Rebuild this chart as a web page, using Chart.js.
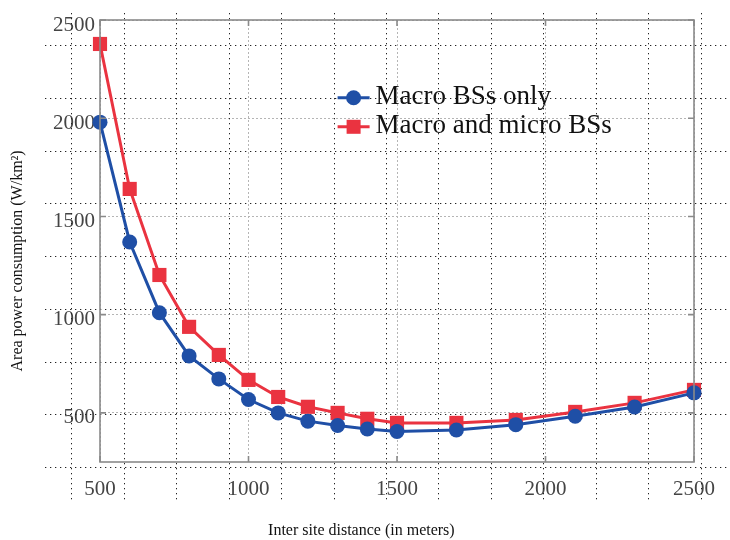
<!DOCTYPE html>
<html lang="en">
<head>
    <meta charset="UTF-8">
    <title>Area power consumption vs inter site distance</title>
    <script src="https://cdn.jsdelivr.net/npm/chart.js@4.4.0/dist/chart.umd.min.js"></script>
    <style>
        html, body {
            margin: 0;
            padding: 0;
            background: #fff;
        }
        #wrap {
            width: 730px;
            height: 540px;
        }
    </style>
</head>
<body>
    <div id="wrap"><canvas id="chart" width="730" height="540"></canvas></div>

    <script>
        // Values
        const distances = [500, 600, 700, 800, 900, 1000, 1100, 1200, 1300, 1400, 1500, 1700, 1900, 2100, 2300, 2500];
        const macroOnly = [1980, 1370, 1010, 790, 673, 568, 500, 458, 436, 418, 405, 413, 440, 483, 530, 602];
        const macroMicro = [2378, 1640, 1202, 938, 795, 668, 581, 531, 500, 470, 449, 449, 464, 505, 551, 617];
        const xTicks = [500, 1000, 1500, 2000, 2500];
        const yTicks = [500, 1000, 1500, 2000, 2500];
        const seriesLabels = ['Macro BSs only', 'Macro and micro BSs'];
        const xTitle = 'Inter site distance (in meters)';
        const yTitle = 'Area power consumption (W/km²)';

        const serif = "'Liberation Serif', 'DejaVu Serif', serif";

        // offset dotted lattice, runs past the axes box like in the source figure
        const overlayGrid = {
            id: 'overlayGrid',
            beforeDatasetsDraw(chart) {
                const { ctx, chartArea: a, scales: { x, y } } = chart;
                ctx.save();
                ctx.strokeStyle = '#222';
                ctx.lineWidth = 1;
                ctx.setLineDash([1.3, 3.7]);
                for (let v = 404; v <= 2530; v += 176.5) {
                    const px = Math.round(x.getPixelForValue(v)) + 0.5;
                    ctx.beginPath();
                    ctx.moveTo(px, a.top - 7);
                    ctx.lineTo(px, a.bottom + 38);
                    ctx.stroke();
                }
                for (let v = 2373; v >= 200; v -= 268.7) {
                    const py = Math.round(y.getPixelForValue(v)) + 0.5;
                    ctx.beginPath();
                    ctx.moveTo(a.left - 55, py);
                    ctx.lineTo(chart.width, py);
                    ctx.stroke();
                }
                ctx.restore();
            }
        };

        // axes box with inward ticks
        const frame = {
            id: 'frame',
            afterDatasetsDraw(chart) {
                const { ctx, chartArea: a, scales: { x, y } } = chart;
                ctx.save();
                ctx.strokeStyle = '#8a8a8a';
                ctx.lineWidth = 1.6;
                ctx.setLineDash([]);
                ctx.strokeRect(a.left, a.top, a.right - a.left, a.bottom - a.top);
                ctx.beginPath();
                y.ticks.forEach(t => {
                    const py = y.getPixelForValue(t.value);
                    ctx.moveTo(a.left, py); ctx.lineTo(a.left + 6, py);
                    ctx.moveTo(a.right, py); ctx.lineTo(a.right - 6, py);
                });
                x.ticks.forEach(t => {
                    const px = x.getPixelForValue(t.value);
                    ctx.moveTo(px, a.bottom); ctx.lineTo(px, a.bottom - 6);
                    ctx.moveTo(px, a.top); ctx.lineTo(px, a.top + 6);
                });
                ctx.stroke();
                ctx.restore();
            }
        };

        // legend inside the plot + axis titles
        const insideLegend = {
            id: 'insideLegend',
            afterDraw(chart) {
                const { ctx, chartArea: a } = chart;
                const x0 = a.left + (a.right - a.left) * 0.40;
                const y0 = a.top + (a.bottom - a.top) * 0.176;
                ctx.save();
                chart.data.datasets.forEach((ds, i) => {
                    const yy = y0 + i * 29;
                    ctx.strokeStyle = ds.borderColor;
                    ctx.lineWidth = 3;
                    ctx.beginPath();
                    ctx.moveTo(x0, yy);
                    ctx.lineTo(x0 + 32, yy);
                    ctx.stroke();
                    ctx.fillStyle = ds.backgroundColor;
                    if (ds.pointStyle === 'rect') {
                        ctx.fillRect(x0 + 9, yy - 7, 14, 14);
                    } else {
                        ctx.beginPath();
                        ctx.arc(x0 + 16, yy, 7.5, 0, Math.PI * 2);
                        ctx.fill();
                    }
                    ctx.fillStyle = '#111';
                    ctx.font = '27px ' + serif;
                    ctx.textBaseline = 'middle';
                    ctx.fillText(ds.label, x0 + 38, yy - 1);
                });

                ctx.fillStyle = '#111';
                ctx.font = '16px ' + serif;
                ctx.textAlign = 'center';
                ctx.textBaseline = 'middle';
                ctx.fillText(xTitle, a.left + (a.right - a.left) * 0.44, chart.height - 9);
                ctx.translate(18, a.top + (a.bottom - a.top) * 0.545);
                ctx.rotate(-Math.PI / 2);
                ctx.fillText(yTitle, 0, 0);
                ctx.restore();
            }
        };

        const ctx = document.getElementById('chart').getContext('2d');
        new Chart(ctx, {
            type: 'line',
            data: {
                datasets: [{
                    label: seriesLabels[0],
                    data: distances.map((d, i) => ({ x: d, y: macroOnly[i] })),
                    borderColor: '#1f4fa6',
                    backgroundColor: '#1f4fa6',
                    borderWidth: 3,
                    pointStyle: 'circle',
                    pointRadius: 7.5,
                    pointBorderWidth: 0,
                    clip: false
                }, {
                    label: seriesLabels[1],
                    data: distances.map((d, i) => ({ x: d, y: macroMicro[i] })),
                    borderColor: '#ea3340',
                    backgroundColor: '#ea3340',
                    borderWidth: 3,
                    pointStyle: 'rect',
                    pointRadius: 10,
                    pointBorderWidth: 0,
                    clip: false
                }]
            },
            options: {
                responsive: false,
                animation: false,
                layout: { padding: { top: 20, right: 34, left: 0, bottom: 0 } },
                plugins: {
                    legend: { display: false },
                    tooltip: { enabled: false }
                },
                scales: {
                    x: {
                        type: 'linear',
                        min: 500,
                        max: 2500,
                        afterBuildTicks: s => { s.ticks = xTicks.map(v => ({ value: v })); },
                        afterFit: s => { s.height = 78; },
                        grid: { color: '#b5b5b5', drawTicks: false },
                        border: { display: false, dash: [2, 2] },
                        ticks: {
                            color: '#444',
                            padding: 15,
                            maxRotation: 0,
                            callback: v => String(v),
                            font: { family: serif, size: 21 }
                        }
                    },
                    y: {
                        min: 250,
                        max: 2500,
                        afterBuildTicks: s => { s.ticks = yTicks.map(v => ({ value: v })); },
                        afterFit: s => { s.width = 100; },
                        grid: { color: '#b5b5b5', drawTicks: false },
                        border: { display: false, dash: [2, 2] },
                        ticks: {
                            color: '#444',
                            padding: 5,
                            labelOffset: 5,
                            callback: v => String(v),
                            font: { family: serif, size: 21 }
                        }
                    }
                }
            },
            plugins: [overlayGrid, frame, insideLegend]
        });
    </script>
</body>
</html>
